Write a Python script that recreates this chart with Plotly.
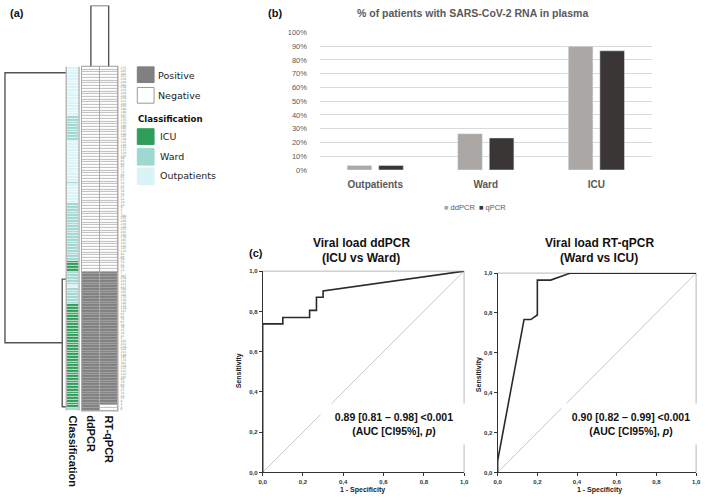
import plotly.graph_objects as go

W, H = 709, 503
def X(p): return p / W
def Y(p): return 1 - p / H

# ---------------- data ----------------
# (a) heatmap: classification and results, top to bottom (run lengths)
class_runs = [("Outpatients", 18), ("Ward", 9), ("Outpatients", 15), ("Ward", 1),
              ("Outpatients", 7), ("Ward", 21), ("ICU", 4), ("Ward", 5),
              ("Outpatients", 1), ("Ward", 6), ("ICU", 38), ("Ward", 1)]
ddpcr_runs = [("Negative", 75), ("Positive", 51)]
qpcr_runs = [("Negative", 75), ("Positive", 49), ("Negative", 2)]
patient_ids = ("271 265 262 257 250 248 241 236 233 229 224 219 213 208 "
               "203 198 190 187 181 176 170 166 160 155 149 144 139 132 "
               "128 121 117 110 104 99 95 88 83 77 72 66 61 57 "
               "52 47 43 38 31 27 22 18 14 9 5 3 269 255 "
               "246 238 226 215 201 193 178 163 152 141 125 114 92 80 "
               "69 54 41 29 12 7 267 259 243 231 217 206 195 184 "
               "172 158 146 135 119 107 97 85 74 63 49 36 25 16 "
               "11 2 263 252 239 222 211 199 185 174 161 150 137 123 "
               "112 101 90 79 68 58 45 34 24 15 8 4 1 6").split()
class_codes = {"Outpatients": 0, "Ward": 1, "ICU": 2}
result_codes = {"Negative": 0, "Positive": 1}
class_colors = {"ICU": "#2e9e5a", "Ward": "#9ed8d1", "Outpatients": "#d9f3f6"}

# dendrograms (distance, row position)
dend_left_dist = [0, 1.0, 1.0, 0.065]
dend_left_row = [1.66, 1.66, 100.65, 100.65]
dend_sub_dist = [0, 0.065, 0.065, 0]
dend_sub_row = [77.3, 77.3, 124.1, 124.1]
dend_top_col = [0, 0, 1, 1]
dend_top_h = [0, 1, 1, 0]

# (b) bar chart
groups = ["Outpatients", "Ward", "ICU"]
pct_ddpcr = [0.033, 0.264, 0.900]
pct_qpcr = [0.033, 0.233, 0.867]

# (c) ROC curves
roc_dd_fpr = [0, 0, 0.1, 0.1, 0.233, 0.233, 0.267, 0.267, 0.3, 0.3, 1.0]
roc_dd_tpr = [0, 0.738, 0.738, 0.77, 0.77, 0.805, 0.805, 0.87, 0.87, 0.902, 1.0]
roc_q_fpr = [0, 0, 0.133, 0.167, 0.2, 0.2, 0.267, 0.367, 1.0]
roc_q_tpr = [0, 0.06, 0.767, 0.767, 0.79, 0.965, 0.965, 1.0, 1.0]
roc_ticks = [0, 0.2, 0.4, 0.6, 0.8, 1.0]


def expand(runs):
    out = []
    for k, n in runs:
        out += [k] * n
    return out

classes = expand(class_runs)
dd = expand(ddpcr_runs)
qp = expand(qpcr_runs)
rows = list(range(len(classes)))
nrows = len(rows)

fig = go.Figure()

# ---- (a) ----
c0, c1, c2 = class_colors["Outpatients"], class_colors["Ward"], class_colors["ICU"]
fig.add_trace(go.Heatmap(
    z=[[class_codes[c]] for c in classes], x=[0], y=rows,
    xaxis="x2", yaxis="y", zmin=0, zmax=2, ygap=0.7,
    colorscale=[[0, c0], [0.333, c0], [0.333, c1], [0.667, c1], [0.667, c2], [1, c2]],
    showscale=False, hoverinfo="skip"))
fig.add_trace(go.Heatmap(
    z=[[result_codes[a], result_codes[b]] for a, b in zip(dd, qp)], x=[0, 1], y=rows,
    xaxis="x3", yaxis="y", zmin=0, zmax=1, xgap=1, ygap=0.8,
    colorscale=[[0, "#ffffff"], [0.5, "#ffffff"], [0.5, "#808080"], [1, "#808080"]],
    showscale=False, hoverinfo="skip"))
dline = dict(color="#555555", width=1.4)
fig.add_trace(go.Scatter(x=dend_left_dist, y=dend_left_row, mode="lines", line=dline,
                         xaxis="x", yaxis="y", showlegend=False, cliponaxis=False, hoverinfo="skip"))
fig.add_trace(go.Scatter(x=dend_sub_dist, y=dend_sub_row, mode="lines", line=dline,
                         xaxis="x", yaxis="y", showlegend=False, cliponaxis=False, hoverinfo="skip"))
fig.add_trace(go.Scatter(x=dend_top_col, y=dend_top_h, mode="lines", line=dline,
                         xaxis="x3", yaxis="y2", showlegend=False, cliponaxis=False, hoverinfo="skip"))

# ---- (b) ----
fig.add_trace(go.Bar(x=groups, y=pct_ddpcr, name="ddPCR", marker_color="#aba7a5",
                     xaxis="x5", yaxis="y3", showlegend=False))
fig.add_trace(go.Bar(x=groups, y=pct_qpcr, name="qPCR", marker_color="#3b3636",
                     xaxis="x5", yaxis="y3", showlegend=False))

# ---- (c) ----
for xa, ya, fpr, tpr in (("x6", "y4", roc_dd_fpr, roc_dd_tpr), ("x7", "y5", roc_q_fpr, roc_q_tpr)):
    fig.add_trace(go.Scatter(x=[0, 1], y=[0, 1], mode="lines", line=dict(color="#c8c8c8", width=1),
                             xaxis=xa, yaxis=ya, showlegend=False, hoverinfo="skip"))
    fig.add_trace(go.Scatter(x=fpr, y=tpr, mode="lines", line=dict(color="#2a2a2a", width=1.6),
                             xaxis=xa, yaxis=ya, showlegend=False, cliponaxis=False))

hidden = dict(visible=False, showgrid=False, zeroline=False, fixedrange=True)
roc_ax = dict(range=[0, 1], tickvals=roc_ticks, tickformat=".1f", ticks="outside", ticklen=3,
              tickcolor="#333", showline=True, linecolor="#333", linewidth=1, showgrid=False,
              zeroline=False, tickfont=dict(family="Liberation Sans", size=6, color="#333", weight="bold"))

fig.update_layout(
    width=W, height=H, margin=dict(l=0, r=0, t=0, b=0),
    paper_bgcolor="white", plot_bgcolor="white", separators=",.",
    barmode="group", bargap=0.429, bargroupgap=0.219,
    xaxis=dict(domain=[0, X(63)], range=[1.016, 0], anchor="y", **hidden),
    xaxis2=dict(domain=[X(63.5), X(75.5)], range=[-0.5, 0.5], anchor="y", **hidden),
    xaxis3=dict(domain=[X(79), X(115)], range=[-0.5, 1.5], anchor="y", **hidden),
    yaxis=dict(domain=[Y(414), Y(64)], range=[nrows - 0.5, -0.5], anchor="x3", side="right",
               tickvals=rows, ticktext=patient_ids, showgrid=False, zeroline=False, showline=False,
               ticks="", ticklabelstandoff=2,
               tickfont=dict(family="DejaVu Sans", size=3, color="#8a8a8a")),
    yaxis2=dict(domain=[Y(63.5), Y(1.5)], range=[0, 1], anchor="x3", **hidden),
    xaxis5=dict(domain=[X(320), X(656)], anchor="y3", showgrid=False, showline=False, ticks="",
                ticklabelstandoff=7,
                tickfont=dict(family="Liberation Sans", size=10, color="#595959", weight="bold")),
    yaxis3=dict(domain=[Y(169), Y(29)], range=[0, 1], dtick=0.1, tickformat=".0%", anchor="x5",
                showgrid=True, gridcolor="#d9d9d9", gridwidth=1, zeroline=False, showline=False,
                ticklabelstandoff=12,
                tickfont=dict(family="Liberation Sans", size=7.5, color="#595959")),
    xaxis6=dict(domain=[X(262), X(466)], anchor="y4", **roc_ax),
    yaxis4=dict(domain=[Y(477), Y(272)], anchor="x6", **roc_ax),
    xaxis7=dict(domain=[X(500), X(701)], anchor="y5", **roc_ax),
    yaxis5=dict(domain=[Y(477), Y(274)], anchor="x7", **roc_ax),
)

shapes = []
# background behind result columns (gives the cell borders)
shapes.append(dict(type="rect", xref="paper", yref="paper", x0=X(78), x1=X(116), y0=Y(415), y1=Y(63),
                   fillcolor="#ababab", line=dict(width=0), layer="below"))
for px in (63, 76):
    shapes.append(dict(type="line", xref="paper", yref="paper", x0=X(px), x1=X(px), y0=Y(414), y1=Y(64),
                       line=dict(color="#a8a8a8", width=1.2)))
# legend swatches of (a)
leg = [("#808080", "#808080", 64, 80), ("#ffffff", "#9a9a9a", 85, 101),
       (class_colors["ICU"], class_colors["ICU"], 127, 143),
       (class_colors["Ward"], class_colors["Ward"], 147, 164),
       (class_colors["Outpatients"], class_colors["Outpatients"], 167, 184)]
for fill, lc, ya, yb in leg:
    shapes.append(dict(type="rect", xref="paper", yref="paper", x0=X(135), x1=X(152), y0=Y(yb), y1=Y(ya),
                       fillcolor=fill, line=dict(color=lc, width=1)))
# ROC frame: light top/right borders
for xa, ya in (("x6", "y4"), ("x7", "y5")):
    shapes.append(dict(type="line", xref=xa + " domain", yref=ya + " domain", x0=0, x1=1, y0=1, y1=1,
                       line=dict(color="#b8b8b8", width=1), layer="below"))
    shapes.append(dict(type="line", xref=xa + " domain", yref=ya + " domain", x0=1, x1=1, y0=0, y1=1,
                       line=dict(color="#b8b8b8", width=1), layer="below"))
fig.update_layout(shapes=shapes)

ann = []
def text(t, x, y, size, family="Liberation Sans", color="#111", bold=False, xanchor="center",
         yanchor="middle", angle=0, **kw):
    ann.append(dict(text=t, x=X(x), y=Y(y), xref="paper", yref="paper", showarrow=False,
                    xanchor=xanchor, yanchor=yanchor, textangle=angle,
                    font=dict(family=family, size=size, color=color, weight="bold" if bold else "normal"),
                    **kw))

text("(a)", 4, 9, 11, bold=True, xanchor="left")
text("(b)", 274, 9, 11, bold=True)
text("(c)", 255, 254, 11, bold=True)
# legend (a)
text("Positive", 154, 73, 9.5, family="DejaVu Sans", color="#222", xanchor="left")
text("Negative", 154, 93, 9.5, family="DejaVu Sans", color="#222", xanchor="left")
text("Classification", 134, 117, 8.6, family="DejaVu Sans", color="#111", bold=True, xanchor="left")
text("ICU", 156, 135, 9.5, family="DejaVu Sans", color="#222", xanchor="left")
text("Ward", 156, 155, 9.5, family="DejaVu Sans", color="#222", xanchor="left")
text("Outpatients", 156, 175, 9.5, family="DejaVu Sans", color="#222", xanchor="left")
# column labels
text("Classification", 70, 417, 11, bold=True, yanchor="top", angle=90)
text("ddPCR", 88, 417, 11, bold=True, yanchor="top", angle=90)
text("RT-qPCR", 106.5, 417, 11, bold=True, yanchor="top", angle=90)
# (b)
text("% of patients with SARS-CoV-2 RNA in plasma", 475, 9, 10.5, color="#595959", bold=True)
text("<span style='color:#aba7a5'>■</span> ddPCR  <span style='color:#3b3636'>■</span> qPCR",
     477, 207, 7.5, color="#595959")
# (c)
text("Viral load ddPCR", 362, 243, 12, bold=True)
text("(ICU vs Ward)", 362, 259, 12, bold=True)
text("Viral load RT-qPCR", 603, 243, 12, bold=True)
text("(Ward vs ICU)", 603, 259, 12, bold=True)
text("0.89 [0.81 – 0.98] <0.001<br>(AUC [CI95%], <i>p</i>)", 395, 428, 10.5, bold=True,
     bgcolor="white", width=144, height=38)
text("0.90 [0.82 – 0.99] <0.001<br>(AUC [CI95%], <i>p</i>)", 635, 428, 10.5, bold=True,
     bgcolor="white", width=136, height=38)
text("Sensitivity", 238, 373, 7, color="#222", bold=True, angle=-90)
text("Sensitivity", 481, 377, 7, color="#222", bold=True, angle=-90)
text("1 - Specificity", 363, 495, 7, color="#222", bold=True)
text("1 - Specificity", 603, 495, 7, color="#222", bold=True)
fig.update_layout(annotations=ann)

fig.write_html("out.html", config={"displayModeBar": False, "staticPlot": True},
               post_script="document.body.style.margin='0px';document.body.style.overflow='hidden';")
